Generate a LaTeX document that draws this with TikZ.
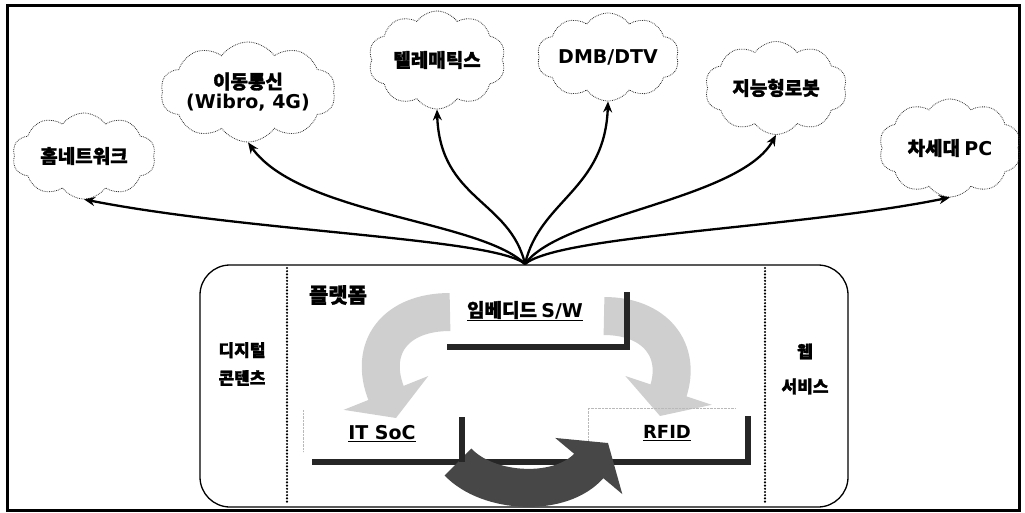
\documentclass[tikz,border=0pt]{standalone}
\usepackage{fontspec}
\setmainfont{Noto Sans CJK KR}[BoldFeatures={FakeBold=1.5}]
\newfontfamily\lat{DejaVu Sans}
\usetikzlibrary{shapes.symbols,arrows.meta}
\tikzset{
  cloudnode/.style={cloud, cloud puffs=10, cloud puff arc=110, cloud ignores aspect, draw=black!80, densely dotted, line width=0.8pt, inner sep=0pt, align=center, font=\fontsize{19}{20}\selectfont\bfseries},
  link/.style={line width=2.3pt, -{Stealth[length=11pt,width=9pt]}},
  lbl/.style={font=\fontsize{17}{28}\selectfont\bfseries, align=center},
  ulbl/.style={font=\fontsize{19}{22}\selectfont\bfseries},
  bar/.style={line width=6pt, draw=black!85},
  lightarrow/.style={line width=38pt, draw=gray!38, -{Triangle[width=90pt,length=27pt]}},
  darkarrow/.style={line width=38pt, draw=black!72, -{Triangle[width=86pt,length=30pt]}},
  sep/.style={line width=2.4pt, line cap=round, dash pattern=on 0pt off 3.2pt}
}
\begin{document}
\begin{tikzpicture}[x=1pt,y=-1pt]
\useasboundingbox (0,0) rectangle (1025,513);
% outer frame
\draw[line width=3pt] (7,6) rectangle (1019,510);
% clouds
\node[cloudnode, minimum width=143pt, minimum height=86pt] (home) at (84,156) {홈네트워크};
\node[cloudnode, minimum width=145pt, minimum height=100pt] (mobile) at (248,92) {이동통신\\{\lat (Wibro, 4G)}};
\node[cloudnode, minimum width=137pt, minimum height=98pt] (telem) at (437,60) {텔레매틱스};
\node[cloudnode, minimum width=142pt, minimum height=88pt] (dmb) at (608,57) {\lat DMB/DTV};
\node[cloudnode, minimum width=142pt, minimum height=93pt] (robot) at (776,88) {지능형로봇};
\node[cloudnode, minimum width=142pt, minimum height=98pt] (pc) at (950,148) {차세대 {\lat PC}};
% platform box
\draw[line width=1.3pt, rounded corners=30pt] (200,265) rectangle (848,507);
\coordinate (hub) at (525,264);
\draw[sep] (287,268) -- (287,503);
\draw[sep] (765,268) -- (765,503);
% connectors
\draw[link] (hub) .. controls (495,238) and (250,232) .. (home.south);
\draw[link] (hub) .. controls (480,220) and (300,215) .. (mobile.south);
\draw[link] (hub) .. controls (510,200) and (440,200) .. (telem.south);
\draw[link] (hub) .. controls (540,200) and (605,190) .. (dmb.south);
\draw[link] (hub) .. controls (560,215) and (740,200) .. (robot.south);
\draw[link] (hub) .. controls (560,235) and (800,228) .. (pc.south);
% curved light arrows
\draw[lightarrow] (450,312) .. controls (395,312) and (368,348) .. (396,418);
\draw[lightarrow] (604,316) .. controls (655,316) and (682,350) .. (660,416);
% faint text box borders
\draw[gray!55, densely dotted] (303,410) -- (303,452);
\draw[gray!55, densely dotted] (588,446) -- (588,408) -- (735,408);
% bars
\draw[bar] (447,347) -- (627,347) -- (627,292);
\draw[bar] (312,462) -- (748,462) -- (748,416);
% dark arrow
\draw[darkarrow] (458,462) .. controls (488,494) and (562,498) .. (608,443);
\draw[bar] (462,462) -- (462,417);
% labels
\node[lbl] (dc) at (242,364) {디지털\\콘텐츠};
\node[lbl, font=\fontsize{17}{35}\selectfont\bfseries] (web) at (805,369) {웹\\서비스};
\node[lbl, font=\fontsize{21}{24}\selectfont\bfseries] (plat) at (338,295) {플랫폼};
\node[ulbl] (emb) at (525,311) {\underline{임베디드 {\lat S/W}}};
\node[ulbl] (soc) at (382,434) {\underline{\lat IT SoC}};
\node[ulbl, font=\fontsize{18}{22}\selectfont\bfseries] (rfid) at (667,433) {\underline{\lat RFID}};
\end{tikzpicture}
\end{document}
